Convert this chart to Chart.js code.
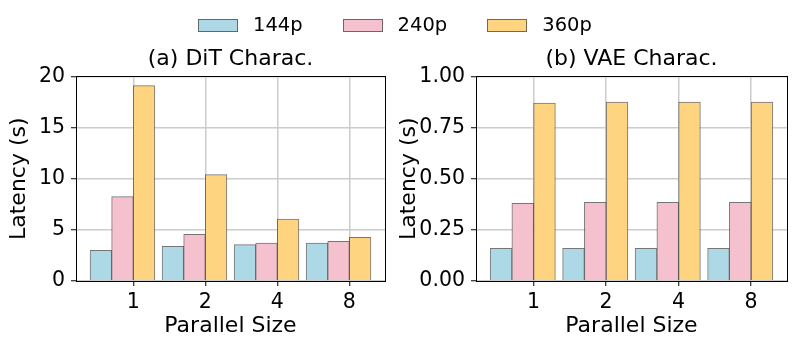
<!DOCTYPE html>
<html>
<head>
<meta charset="utf-8">
<script src="https://cdn.jsdelivr.net/npm/chart.js@4"></script>
<style>
  body { margin: 0; background: #fff; }
  #wrap { position: relative; width: 797px; height: 350px; font-family: "DejaVu Sans", sans-serif; }
  #left { position: absolute; left: 0; top: 0; }
  #right { position: absolute; left: 396px; top: 0; }
  #legend { position: absolute; top: 13px; left: 198px; display: flex; align-items: center; font-size: 19.5px; line-height: 24px; color: #000; }
  .item { display: flex; align-items: center; margin-right: 40px; }
  .patch { width: 38px; height: 11px; border: 1px solid rgba(60,60,60,0.7); margin-right: 15px; }
</style>
</head>
<body>
<div id="wrap">
  <canvas id="left" width="396" height="350"></canvas>
  <canvas id="right" width="401" height="350"></canvas>
  <div id="legend"></div>
</div>
<script>
// x categories (parallel size)
const xLabels = ['1', '2', '4', '8'];
const seriesNames = ['144p', '240p', '360p'];
const colors = ['#add8e6', '#f6c1cf', '#ffd480'];

// (a) DiT latency, seconds
const dit144 = [3.0, 3.4, 3.55, 3.7];
const dit240 = [8.25, 4.55, 3.7, 3.88];
const dit360 = [19.1, 10.4, 6.05, 4.28];

// (b) VAE latency, seconds
const vae144 = [0.16, 0.16, 0.16, 0.16];
const vae240 = [0.38, 0.385, 0.385, 0.385];
const vae360 = [0.87, 0.875, 0.875, 0.875];

const ditTicks = [0, 5, 10, 15, 20];
const vaeTicks = [0, 0.25, 0.5, 0.75, 1.0];

const BAR_W = 0.3;
const FONT = 'DejaVu Sans';
Chart.defaults.color = '#000';
Chart.defaults.font.family = FONT;

// legend
const legend = document.getElementById('legend');
seriesNames.forEach((name, k) => {
    const item = document.createElement('div');
    item.className = 'item';
    item.innerHTML = '<div class="patch" style="background:' + colors[k] + '"></div><span>' + name + '</span>';
    legend.appendChild(item);
});

// draws the full box around the plot like matplotlib spines
const boxPlugin = {
    id: 'box',
    afterDraw(chart) {
        const a = chart.chartArea;
        const ctx = chart.ctx;
        ctx.save();
        ctx.strokeStyle = '#000';
        ctx.lineWidth = 1;
        ctx.strokeRect(Math.round(a.left) + 0.5, Math.round(a.top) + 0.5,
            Math.round(a.right - a.left), Math.round(a.bottom - a.top));
        ctx.restore();
    }
};

function makeChart(id, title, series, yTicks, yDecimals, yWidth, yTitlePad, padRight) {
    const datasets = series.map((vals, k) => ({
        label: seriesNames[k],
        data: vals.map((v, i) => ({ x: i + (k - 1.5) * BAR_W, y: v })),
        backgroundColor: colors[k],
        borderColor: 'rgba(60,60,60,0.7)',
        borderWidth: 1,
        grouped: false,
        categoryPercentage: 1,
        barPercentage: 1
    }));

    new Chart(document.getElementById(id), {
        type: 'bar',
        data: { datasets },
        options: {
            responsive: false,
            animation: false,
            layout: { padding: { top: 0, right: padRight, bottom: 0, left: 0 } },
            plugins: {
                legend: { display: false },
                tooltip: { enabled: false },
                title: {
                    display: true,
                    text: title,
                    fullSize: false,
                    color: '#000',
                    font: { size: 22, weight: 'normal', family: FONT },
                    padding: { top: 46, bottom: 4 }
                }
            },
            scales: {
                x: {
                    type: 'linear',
                    min: -0.795,
                    max: 3.495,
                    offset: false,
                    ticks: {
                        stepSize: 1,
                        includeBounds: false,
                        autoSkip: false,
                        maxRotation: 0,
                        padding: 4,
                        font: { size: 20.5 },
                        callback: v => xLabels[v]
                    },
                    grid: { offset: false, color: '#cccccc', lineWidth: 1.5, tickColor: '#000', tickLength: 5, tickWidth: 1 },
                    border: { color: '#000', width: 1 },
                    title: { display: true, text: 'Parallel Size', font: { size: 22 }, padding: { top: 0, bottom: 11 } },
                    afterFit: s => { s.height = 69; }
                },
                y: {
                    min: yTicks[0],
                    max: yTicks[yTicks.length - 1],
                    afterBuildTicks: s => { s.ticks = yTicks.map(v => ({ value: v })); },
                    ticks: {
                        padding: 6,
                        font: { size: 20.5 },
                        callback: v => v.toFixed(yDecimals)
                    },
                    grid: { color: '#cccccc', lineWidth: 1.5, tickColor: '#000', tickLength: 5, tickWidth: 1 },
                    border: { color: '#000', width: 1 },
                    title: { display: true, text: 'Latency (s)', font: { size: 22 }, padding: { top: yTitlePad, bottom: 0 } },
                    afterFit: s => { s.width = yWidth; }
                }
            }
        },
        plugins: [boxPlugin]
    });
}

makeChart('left', '(a) DiT Charac.', [dit144, dit240, dit360], ditTicks, 0, 76, 6, 11);
makeChart('right', '(b) VAE Charac.', [vae144, vae240, vae360], vaeTicks, 2, 80, 0, 10);
</script>
</body>
</html>
